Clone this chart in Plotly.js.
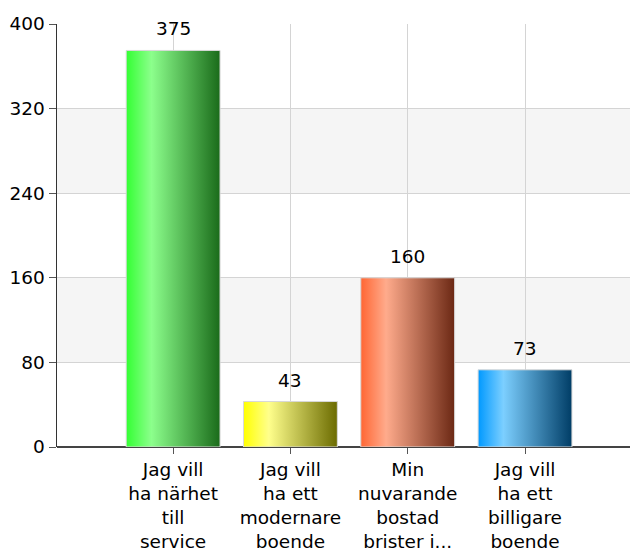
<!DOCTYPE html>
<html>
<head>
<meta charset="utf-8">
<script src="https://cdn.plot.ly/plotly-3.0.1.min.js"></script>
<style>
html,body{margin:0;padding:0;background:#fff;}
#chart{width:630px;height:553px;}
</style>
</head>
<body>
<div id="chart"></div>
<script>
// ---- data ----
const categories = [
  "Jag vill<br>ha närhet<br>till<br>service",
  "Jag vill<br>ha ett<br>modernare<br>boende",
  "Min<br>nuvarande<br>bostad<br>brister i...",
  "Jag vill<br>ha ett<br>billigare<br>boende"
];
const values = [375, 43, 160, 73];
const yTicks = [0, 80, 160, 240, 320, 400];
// gradient stops per bar: [left, highlight, right]
const barGradients = [
  ["#33ff33", "#8cff8c", "#1a6b1a"],
  ["#ffff00", "#ffff8c", "#6b6b00"],
  ["#ff6633", "#ffab8c", "#6b2814"],
  ["#0099ff", "#7ccfff", "#003d66"]
];

const xIdx = categories.map((c, i) => i);
const fontFam = "'DejaVu Sans', Verdana, sans-serif";
const fs = 18.5;

const trace = {
  type: "bar",
  x: xIdx,
  y: values,
  marker: {
    color: barGradients.map(g => g[0]),
    line: {color: "#d8d8d8", width: 1}
  },
  hoverinfo: "skip",
  showlegend: false
};

// alternating bands from tick values
const shapes = [];
for (let i = 1; i < yTicks.length - 1; i += 2) {
  shapes.push({
    type: "rect", xref: "paper", yref: "y", layer: "below",
    x0: 0, x1: 1, y0: yTicks[i], y1: yTicks[i + 1],
    fillcolor: "#f5f5f5", line: {width: 0}
  });
}
// y axis line extension below zero
shapes.push({
  type: "line", xref: "paper", yref: "y", ysizemode: "pixel", yanchor: 0,
  x0: 0, x1: 0, y0: 0, y1: -7, line: {color: "#333333", width: 1.5}
});

const annotations = values.map((v, i) => ({
  x: i, y: v, xref: "x", yref: "y",
  text: String(v), showarrow: false,
  yanchor: "bottom", yshift: 9,
  font: {family: fontFam, size: fs, color: "#000"}
}));

const layout = {
  width: 630, height: 553,
  margin: {l: 57, r: 0, t: 24, b: 106},
  paper_bgcolor: "#ffffff",
  plot_bgcolor: "rgba(0,0,0,0)",
  bargap: 0.2,
  font: {family: fontFam, size: fs, color: "#000"},
  xaxis: {
    range: [-0.99, 3.895],
    tickmode: "array",
    tickvals: xIdx,
    ticktext: categories,
    ticks: "outside", ticklen: 6, tickcolor: "#555",
    showgrid: true, gridcolor: "#d4d4d4", gridwidth: 1,
    showline: false, zeroline: false,
    tickfont: {family: fontFam, size: fs, color: "#000"},
    fixedrange: true
  },
  yaxis: {
    range: [0, 400],
    tickmode: "array",
    tickvals: yTicks,
    ticks: "outside", ticklen: 7, tickcolor: "#555",
    showgrid: true, gridcolor: "#d4d4d4", gridwidth: 1,
    showline: true, linecolor: "#333", linewidth: 1.5,
    zeroline: true, zerolinecolor: "#444", zerolinewidth: 1.5,
    tickfont: {family: fontFam, size: fs, color: "#000"},
    fixedrange: true
  },
  shapes: shapes,
  annotations: annotations
};

Plotly.newPlot("chart", [trace], layout, {displayModeBar: false, staticPlot: true}).then(gd => {
  const svg = gd.querySelector(".main-svg");
  const ns = "http://www.w3.org/2000/svg";
  let defs = svg.querySelector("defs");
  if (!defs) { defs = document.createElementNS(ns, "defs"); svg.insertBefore(defs, svg.firstChild); }
  barGradients.forEach((g, i) => {
    const lg = document.createElementNS(ns, "linearGradient");
    lg.setAttribute("id", "barGrad" + i);
    lg.setAttribute("x1", "0"); lg.setAttribute("y1", "0");
    lg.setAttribute("x2", "1"); lg.setAttribute("y2", "0");
    [[0, g[0]], [0.27, g[1]], [1, g[2]]].forEach(([o, c]) => {
      const s = document.createElementNS(ns, "stop");
      s.setAttribute("offset", o);
      s.setAttribute("stop-color", c);
      lg.appendChild(s);
    });
    defs.appendChild(lg);
  });
  gd.querySelectorAll(".barlayer .point path").forEach((p, i) => {
    p.style.fill = "url(#barGrad" + i + ")";
  });
});
</script>
</body>
</html>
